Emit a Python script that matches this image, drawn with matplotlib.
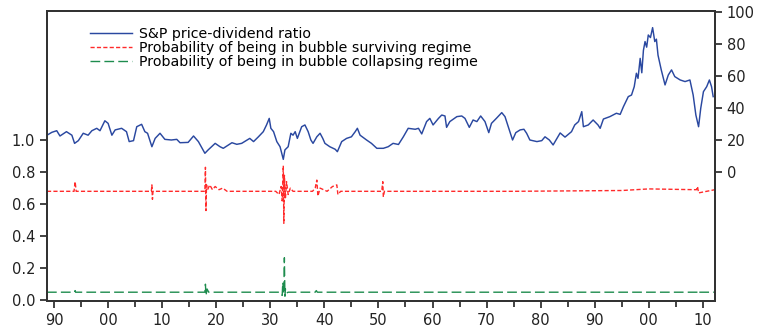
import matplotlib
matplotlib.use("Agg")
import matplotlib.pyplot as plt
from matplotlib.ticker import MultipleLocator

plt.rcParams['font.family'] = ['DejaVu Sans']

# S&P price-dividend ratio (right axis)
pd_years = [1888.7, 1889.6, 1890.5, 1891.1, 1892.3, 1893.3, 1893.8, 1894.5, 1895.4, 1896.3,
            1897.0, 1897.9, 1898.5, 1899.4, 1900.0, 1900.7, 1901.3, 1902.5, 1903.4, 1903.9,
            1904.7, 1905.3, 1906.2, 1906.8, 1907.3, 1908.1, 1908.7, 1909.6, 1910.5, 1911.7,
            1912.7, 1913.3, 1914.8, 1915.8, 1916.7, 1917.9, 1918.5, 1919.8, 1920.7, 1921.3,
            1922.9, 1923.8, 1924.7, 1926.2, 1926.9, 1927.8, 1928.7, 1929.3, 1929.8, 1930.1,
            1930.6, 1931.2, 1931.8, 1932.4, 1932.7, 1933.3, 1933.8, 1934.2, 1934.6, 1935.0,
            1935.8, 1936.4, 1937.0, 1937.5, 1937.9, 1938.6, 1939.2, 1939.7, 1940.1, 1941.0,
            1942.0, 1942.4, 1943.2, 1944.1, 1945.0, 1945.7, 1946.1, 1946.6, 1947.8, 1948.7,
            1949.7, 1950.9, 1951.8, 1952.7, 1953.7, 1954.6, 1955.5, 1956.8, 1957.4, 1958.0,
            1958.9, 1959.5, 1960.1, 1961.1, 1961.7, 1962.3, 1962.6, 1963.2, 1964.5, 1965.4,
            1966.0, 1966.8, 1967.5, 1968.2, 1968.9, 1969.7, 1970.4, 1970.9, 1971.8, 1972.8,
            1973.4, 1974.0, 1974.8, 1975.4, 1976.2, 1976.9, 1977.4, 1978.0, 1979.3, 1980.2,
            1980.8, 1981.6, 1982.3, 1983.0, 1983.6, 1984.5, 1985.7, 1986.3, 1987.0, 1987.6,
            1987.9, 1988.8, 1989.7, 1990.6, 1991.0, 1991.6, 1992.8, 1994.0, 1994.7, 1995.3,
            1996.2, 1996.8, 1997.3, 1997.7, 1998.0, 1998.4, 1998.7, 1999.0, 1999.3, 1999.6,
            1999.9, 2000.3, 2000.7, 2001.1, 2001.4,
            2001.7, 2002.3, 2003.0, 2003.6, 2004.2, 2004.8, 2005.8, 2006.7, 2007.6, 2008.2,
            2008.7, 2009.2, 2009.6, 2010.1, 2010.7, 2011.2, 2011.6, 2011.9]
pd_ratio = [23.0, 24.8, 25.8, 22.5, 25.2, 23.0, 17.9, 19.6, 24.2, 23.0,
            25.8, 27.3, 25.8, 32.0, 30.4, 23.0, 26.3, 27.3, 25.2, 19.0,
            19.6, 28.3, 29.8, 25.2, 24.2, 15.8, 21.0, 24.2, 20.4, 20.0,
            20.4, 18.3, 18.5, 22.5, 19.0, 11.7, 13.8, 17.9, 15.8, 14.8,
            18.3, 17.3, 17.9, 21.0, 19.0, 22.0, 25.2, 29.4, 33.5, 27.3,
            25.2, 19.0, 15.8, 7.9, 13.8, 15.8, 24.2, 23.0, 25.2, 21.0,
            28.3, 29.4, 25.2, 20.0, 17.9, 22.0, 24.2, 21.0, 17.9, 15.8,
            14.2, 12.7, 19.0, 21.0, 22.0, 25.2, 27.3, 23.0, 20.0, 17.9,
            14.8, 14.8, 15.8, 17.9, 17.2, 22.0, 27.3, 26.7, 27.3, 23.8,
            31.5, 33.5, 29.4, 33.5, 35.6, 35.0, 27.9, 31.5, 34.6, 35.0,
            33.5, 27.9, 32.5, 31.5, 35.0, 31.5, 24.6, 30.4, 33.5, 37.1,
            34.6, 28.3, 20.0, 24.6, 26.3, 26.7, 24.2, 20.0, 19.0, 19.6,
            22.0, 20.0, 16.9, 21.0, 24.4, 21.8, 25.2, 29.4, 31.5, 37.7,
            28.3, 29.4, 32.5, 29.4, 27.3, 33.1, 34.6, 36.7, 36.0, 40.8,
            47.1, 48.1, 53.3, 61.7, 58.5, 71.0, 62.0, 76.0, 81.5, 78.0,
            85.6, 84.0, 90.2, 81.5, 83.0,
            73.0, 63.8, 54.4, 60.6, 63.8, 59.6, 57.5, 56.5, 57.5, 48.1,
            35.6, 28.3, 39.8, 50.2, 53.3, 57.5, 53.3, 47.1]

# Probability of being in bubble surviving regime (left axis)
surv_years = [1888.7, 1893.7, 1893.9, 1894.1, 1908.0, 1908.1, 1908.2, 1908.3,
              1917.9, 1918.0, 1918.1, 1918.2, 1918.4, 1918.8, 1919.3, 1919.8, 1920.5,
              1921.2, 1922.0, 1931.0, 1931.6, 1932.0, 1932.2, 1932.4, 1932.5, 1932.6,
              1932.8, 1933.0, 1933.3, 1933.7, 1934.2, 1937.8, 1938.3, 1938.6, 1938.8,
              1939.2, 1940.5, 1941.5, 1942.3, 1942.5, 1943.0, 1950.6, 1950.8, 1950.9,
              1951.1, 1975.0, 1995.0, 2000.0, 2008.8, 2009.0, 2009.2, 2012.2]
surv_prob = [0.68, 0.68, 0.74, 0.68, 0.68, 0.72, 0.63, 0.68,
             0.68, 0.83, 0.56, 0.72, 0.69, 0.72, 0.69, 0.71, 0.69,
             0.70, 0.68, 0.68, 0.66, 0.71, 0.62, 0.84, 0.48, 0.78,
             0.64, 0.74, 0.66, 0.70, 0.68, 0.68, 0.70, 0.75, 0.65,
             0.70, 0.68, 0.71, 0.72, 0.66, 0.68, 0.68, 0.74, 0.645,
             0.68, 0.68, 0.685, 0.695, 0.69, 0.71, 0.67, 0.69]

# Probability of being in bubble collapsing regime (left axis)
coll_years = [1888.7, 1893.8, 1893.9, 1894.0, 1917.9, 1918.0, 1918.1, 1918.3, 1918.6,
              1931.8, 1932.2, 1932.3, 1932.5, 1932.6, 1932.7, 1932.8, 1933.0, 1933.3,
              1938.3, 1938.5, 1938.7, 2009.0, 2009.1, 2009.2, 2012.2]
coll_prob = [0.05, 0.05, 0.06, 0.05, 0.05, 0.10, 0.03, 0.07, 0.05,
             0.05, 0.03, 0.11, 0.04, 0.265, 0.025, 0.07, 0.045, 0.05,
             0.05, 0.06, 0.05, 0.05, 0.04, 0.05, 0.05]

year_ticks = list(range(1890, 2011, 10))
year_labels = ['90', '00', '10', '20', '30', '40', '50', '60', '70', '80', '90', '00', '10']

fig = plt.figure(figsize=(7.58, 3.31), dpi=100)
ax = fig.add_axes([0.062, 0.0906, 0.881, 0.8762])
ax2 = ax.twinx()

l2, = ax.plot(surv_years, surv_prob, color='#ff2a2a', lw=1.0, ls=(0, (3, 1.6)),
              label='Probability of being in bubble surviving regime')
l3, = ax.plot(coll_years, coll_prob, color='#1e8c4e', lw=1.0, ls=(0, (7, 3)),
              label='Probability of being in bubble collapsing regime')
l1, = ax2.plot(pd_years, pd_ratio, color='#2a48a0', lw=1.05,
               label='S&P price-dividend ratio')

ax.set_xlim(1888.7, 2012.2)
ax.set_ylim(-0.005, 1.806)
ax2.set_ylim(-80.6, 100.6)

ax.set_yticks([0.0, 0.2, 0.4, 0.6, 0.8, 1.0])
ax.set_yticklabels(['0.0', '0.2', '0.4', '0.6', '0.8', '1.0'])
ax2.set_yticks([0, 20, 40, 60, 80, 100])
ax.set_xticks(year_ticks)
ax.set_xticklabels(year_labels)
ax.xaxis.set_minor_locator(MultipleLocator(5))

for a in (ax, ax2):
    a.tick_params(axis='both', which='both', direction='out', labelsize=10.5,
                  colors='#222222', width=1.2)
    a.tick_params(axis='both', which='major', length=5)
    a.tick_params(axis='x', which='minor', length=4)
    for s in a.spines.values():
        s.set_linewidth(1.4)
        s.set_color('#333333')

ax2.legend(handles=[l1, l2, l3], loc='upper left', bbox_to_anchor=(0.056, 0.965),
           frameon=False, fontsize=10.2, handlelength=2.95, handletextpad=0.5,
           labelspacing=0.0, borderaxespad=0)

fig.savefig('out.png', dpi=100)
